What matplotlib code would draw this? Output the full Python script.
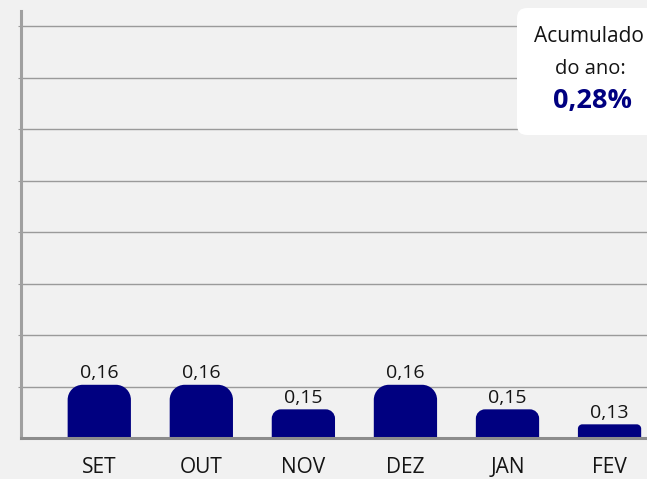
import numpy as np
import matplotlib
matplotlib.use("Agg")
import matplotlib.pyplot as plt
from matplotlib.path import Path
from matplotlib.patches import PathPatch, FancyBboxPatch
from matplotlib.transforms import IdentityTransform

# ---- data ----
months = ["SET", "OUT", "NOV", "DEZ", "JAN", "FEV"]
values = [0.1618, 0.1618, 0.1451, 0.1618, 0.1451, 0.1349]
labels = [f"{v:.2f}".replace(".", ",") for v in values]
box_lines = ["Acumulado", "do ano:"]
box_value = "0,28%"

# ---- style ----
BG = "#f1f1f1"
NAVY = "#000080"
GRID = "#9a9a9a"
FONT = "Open Sans"
plt.rcParams["font.family"] = [FONT, "DejaVu Sans"]

W, H, DPI = 647, 479, 100
fig = plt.figure(figsize=(W / DPI, H / DPI), dpi=DPI, facecolor=BG)
ax = fig.add_axes([21 / W, (H - 438) / H, (W - 21) / W, (438 - 11) / H])
ax.set_facecolor(BG)

ybase, ytop = 0.1256, 0.4161
step = 0.03503
ax.set_xlim(-0.767, 5.367)
ax.set_ylim(ybase, ytop)
ax.set_yticks(ybase + step * np.arange(1, 9))
ax.yaxis.grid(True, color=GRID, linewidth=1.0)
ax.set_axisbelow(True)
ax.tick_params(axis="y", length=2, color=GRID, labelleft=False)
ax.tick_params(axis="x", length=0, pad=14, labelsize=15, labelcolor="#141414")

for s in ["top", "right"]:
    ax.spines[s].set_visible(False)
ax.spines["left"].set_color("#a0a0a0")
ax.spines["left"].set_linewidth(2.2)
ax.spines["bottom"].set_color("#8c8c8c")
ax.spines["bottom"].set_linewidth(2.2)
ax.spines["bottom"].set_zorder(5)

x = np.arange(len(months))
bars = ax.bar(x, np.array(values) - ybase, bottom=ybase, width=0.62, color=NAVY)
ax.set_xticks(x)
ax.set_xticklabels(months)

# replace rectangles by bars with rounded top corners
fig.canvas.draw()
px_x = ax.transData.transform((1, 0))[0] - ax.transData.transform((0, 0))[0]
px_y = ax.transData.transform((0, 1))[1] - ax.transData.transform((0, 0))[1]
k = 0.5523
for rect in bars:
    x0, y0 = rect.get_x(), rect.get_y()
    x1, y1 = x0 + rect.get_width(), y0 + rect.get_height()
    h_px = rect.get_height() * px_y
    r_px = min(15.0, 0.32 * h_px)
    rx, ry = r_px / px_x, r_px / px_y
    verts = [(x0, y0), (x0, y1 - ry),
             (x0, y1 - ry * (1 - k)), (x0 + rx * (1 - k), y1), (x0 + rx, y1),
             (x1 - rx, y1),
             (x1 - rx * (1 - k), y1), (x1, y1 - ry * (1 - k)), (x1, y1 - ry),
             (x1, y0), (x0, y0)]
    codes = [Path.MOVETO, Path.LINETO,
             Path.CURVE4, Path.CURVE4, Path.CURVE4,
             Path.LINETO,
             Path.CURVE4, Path.CURVE4, Path.CURVE4,
             Path.LINETO, Path.CLOSEPOLY]
    rect.set_visible(False)
    ax.add_patch(PathPatch(Path(verts, codes), facecolor=NAVY, edgecolor="none", zorder=3))

for xi, v, lab in zip(x, values, labels):
    ax.annotate(lab, (xi, v), xytext=(0, 2), textcoords="offset points",
                ha="center", va="bottom", fontsize=14, color="#141414")

# accumulated box
box = FancyBboxPatch((517, H - 135), 150, 127,
                     boxstyle="round,pad=0,rounding_size=10",
                     transform=IdentityTransform(), facecolor="white",
                     edgecolor="none", zorder=10)
fig.add_artist(box)
fig.text(589 / W, 1 - 37 / H, box_lines[0], ha="center", va="center",
         fontsize=15, color="#141414", zorder=11)
fig.text(590 / W, 1 - 69 / H, box_lines[1], ha="center", va="center",
         fontsize=14.5, color="#141414", zorder=11)
fig.text(592 / W, 1 - 101 / H, box_value, ha="center", va="center",
         fontsize=19.5, fontweight="bold", color=NAVY, zorder=11)

fig.savefig("out.png", dpi=DPI, facecolor=BG)
